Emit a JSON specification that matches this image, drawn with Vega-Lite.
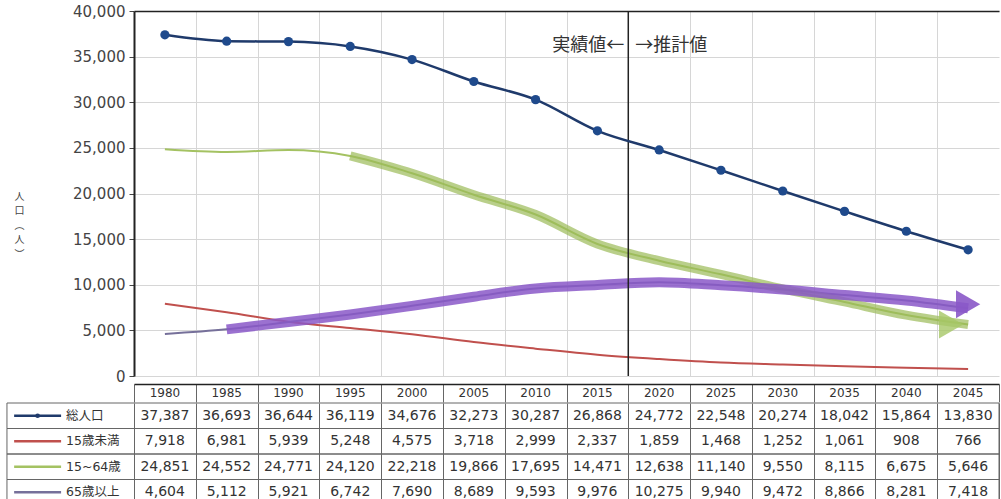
{
  "$schema": "https://vega.github.io/schema/vega-lite/v6.json",
  "padding": {"left": 6, "top": 4, "right": 2, "bottom": 0},
  "background": "white",
  "spacing": 0,
  "config": {
    "view": {"stroke": null},
    "font": "DejaVu Sans, Noto Sans CJK JP"
  },
  "datasets": {
    "pop": [
      {"year": 1980, "series": "総人口", "value": 37387},
      {"year": 1985, "series": "総人口", "value": 36693},
      {"year": 1990, "series": "総人口", "value": 36644},
      {"year": 1995, "series": "総人口", "value": 36119},
      {"year": 2000, "series": "総人口", "value": 34676},
      {"year": 2005, "series": "総人口", "value": 32273},
      {"year": 2010, "series": "総人口", "value": 30287},
      {"year": 2015, "series": "総人口", "value": 26868},
      {"year": 2020, "series": "総人口", "value": 24772},
      {"year": 2025, "series": "総人口", "value": 22548},
      {"year": 2030, "series": "総人口", "value": 20274},
      {"year": 2035, "series": "総人口", "value": 18042},
      {"year": 2040, "series": "総人口", "value": 15864},
      {"year": 2045, "series": "総人口", "value": 13830},
      {"year": 1980, "series": "15歳未満", "value": 7918},
      {"year": 1985, "series": "15歳未満", "value": 6981},
      {"year": 1990, "series": "15歳未満", "value": 5939},
      {"year": 1995, "series": "15歳未満", "value": 5248},
      {"year": 2000, "series": "15歳未満", "value": 4575},
      {"year": 2005, "series": "15歳未満", "value": 3718},
      {"year": 2010, "series": "15歳未満", "value": 2999},
      {"year": 2015, "series": "15歳未満", "value": 2337},
      {"year": 2020, "series": "15歳未満", "value": 1859},
      {"year": 2025, "series": "15歳未満", "value": 1468},
      {"year": 2030, "series": "15歳未満", "value": 1252},
      {"year": 2035, "series": "15歳未満", "value": 1061},
      {"year": 2040, "series": "15歳未満", "value": 908},
      {"year": 2045, "series": "15歳未満", "value": 766},
      {"year": 1980, "series": "15~64歳", "value": 24851},
      {"year": 1985, "series": "15~64歳", "value": 24552},
      {"year": 1990, "series": "15~64歳", "value": 24771},
      {"year": 1995, "series": "15~64歳", "value": 24120},
      {"year": 2000, "series": "15~64歳", "value": 22218},
      {"year": 2005, "series": "15~64歳", "value": 19866},
      {"year": 2010, "series": "15~64歳", "value": 17695},
      {"year": 2015, "series": "15~64歳", "value": 14471},
      {"year": 2020, "series": "15~64歳", "value": 12638},
      {"year": 2025, "series": "15~64歳", "value": 11140},
      {"year": 2030, "series": "15~64歳", "value": 9550},
      {"year": 2035, "series": "15~64歳", "value": 8115},
      {"year": 2040, "series": "15~64歳", "value": 6675},
      {"year": 2045, "series": "15~64歳", "value": 5646},
      {"year": 1980, "series": "65歳以上", "value": 4604},
      {"year": 1985, "series": "65歳以上", "value": 5112},
      {"year": 1990, "series": "65歳以上", "value": 5921},
      {"year": 1995, "series": "65歳以上", "value": 6742},
      {"year": 2000, "series": "65歳以上", "value": 7690},
      {"year": 2005, "series": "65歳以上", "value": 8689},
      {"year": 2010, "series": "65歳以上", "value": 9593},
      {"year": 2015, "series": "65歳以上", "value": 9976},
      {"year": 2020, "series": "65歳以上", "value": 10275},
      {"year": 2025, "series": "65歳以上", "value": 9940},
      {"year": 2030, "series": "65歳以上", "value": 9472},
      {"year": 2035, "series": "65歳以上", "value": 8866},
      {"year": 2040, "series": "65歳以上", "value": 8281},
      {"year": 2045, "series": "65歳以上", "value": 7418}
    ]
  },
  "vconcat": [
    {
      "width": 865,
      "height": 365,
      "layer": [
        {
          "data": {"name": "pop"},
          "transform": [{"filter": "datum.series !== '総人口'"}],
          "mark": {"type": "line", "interpolate": "monotone", "strokeWidth": 2},
          "encoding": {
            "x": {
              "field": "year", "type": "quantitative",
              "scale": {"domain": [1977.5, 2047.5], "nice": false, "zero": false},
              "axis": {
                "orient": "top", "values": [1982.5, 1987.5, 1992.5, 1997.5, 2002.5, 2007.5, 2012.5, 2017.5, 2022.5, 2027.5, 2032.5, 2037.5, 2042.5],
                "grid": true, "gridColor": "#d6d6d6", "labels": false, "ticks": false,
                "domain": true, "domainColor": "#222", "domainWidth": 1.5, "title": null
              }
            },
            "y": {
              "field": "value", "type": "quantitative",
              "scale": {"domain": [0, 40000], "nice": false, "zero": true},
              "axis": {
                "values": [0, 5000, 10000, 15000, 20000, 25000, 30000, 35000, 40000],
                "format": ",.0f", "grid": true, "gridColor": "#d6d6d6",
                "domainColor": "#222", "domainWidth": 2,
                "tickColor": "#444", "tickSize": 5, "labelPadding": 4,
                "labelFont": "DejaVu Sans", "labelFontSize": 15, "labelColor": "#444",
                "title": ["人", "口", "︵", "人", "︶"],
                "titleAngle": 0, "titleFont": "Noto Sans CJK JP", "titleFontSize": 10,
                "titleFontWeight": "normal", "titleColor": "#444", "titleLineHeight": 14.5,
                "titleAlign": "center", "titleBaseline": "top", "titleX": -115, "titleY": 180
              }
            },
            "color": {
              "field": "series", "type": "nominal",
              "scale": {"domain": ["総人口", "15歳未満", "15~64歳", "65歳以上"], "range": ["#1F3A6B", "#C0504D", "#A4C262", "#76709A"]},
              "legend": null
            }
          }
        },
        {
          "data": {"name": "pop"},
          "transform": [{"filter": "datum.series === '15~64歳' && datum.year >= 1995"}],
          "mark": {"type": "line", "interpolate": "monotone", "strokeWidth": 9, "color": "#9BBB59", "opacity": 0.7, "strokeCap": "butt"},
          "encoding": {
            "x": {"field": "year", "type": "quantitative"},
            "y": {"field": "value", "type": "quantitative"}
          }
        },
        {
          "data": {"name": "pop"},
          "transform": [{"filter": "datum.series === '15~64歳' && datum.year === 2045"}],
          "mark": {"type": "point", "shape": "triangle-right", "size": 784, "filled": true, "color": "#A6C766", "opacity": 0.8, "xOffset": -17},
          "encoding": {
            "x": {"field": "year", "type": "quantitative"},
            "y": {"field": "value", "type": "quantitative"}
          }
        },
        {
          "data": {"name": "pop"},
          "transform": [{"filter": "datum.series === '65歳以上' && datum.year >= 1985"}],
          "mark": {"type": "line", "interpolate": "monotone", "strokeWidth": 10, "color": "#8A58C8", "opacity": 0.85, "strokeCap": "butt"},
          "encoding": {
            "x": {"field": "year", "type": "quantitative"},
            "y": {"field": "value", "type": "quantitative"}
          }
        },
        {
          "data": {"name": "pop"},
          "transform": [{"filter": "datum.series === '65歳以上' && datum.year === 2045"}],
          "mark": {"type": "point", "shape": "triangle-right", "size": 784, "filled": true, "color": "#8A58C8", "opacity": 0.9, "yOffset": -4},
          "encoding": {
            "x": {"field": "year", "type": "quantitative"},
            "y": {"field": "value", "type": "quantitative"}
          }
        },
        {
          "data": {"values": [{}]},
          "mark": {"type": "rule", "color": "#222", "strokeWidth": 1.5},
          "encoding": {"x": {"datum": 2017.5, "type": "quantitative"}}
        },
        {
          "data": {"name": "pop"},
          "transform": [{"filter": "datum.series === '総人口'"}],
          "mark": {"type": "line", "interpolate": "monotone", "strokeWidth": 2.5, "color": "#1F3A6B"},
          "encoding": {
            "x": {"field": "year", "type": "quantitative"},
            "y": {"field": "value", "type": "quantitative"}
          }
        },
        {
          "data": {"name": "pop"},
          "transform": [{"filter": "datum.series === '総人口'"}],
          "mark": {"type": "point", "filled": true, "size": 85, "color": "#1F4A8C", "opacity": 1},
          "encoding": {
            "x": {"field": "year", "type": "quantitative"},
            "y": {"field": "value", "type": "quantitative"}
          }
        },
        {
          "data": {"values": [{"label": "実績値←"}]},
          "mark": {"type": "text", "align": "right", "baseline": "middle", "dx": -4, "font": "Noto Sans CJK JP", "fontSize": 18, "color": "#333"},
          "encoding": {
            "x": {"datum": 2017.5, "type": "quantitative"},
            "y": {"datum": 36150, "type": "quantitative"},
            "text": {"field": "label"}
          }
        },
        {
          "data": {"values": [{"label": "→推計値"}]},
          "mark": {"type": "text", "align": "left", "baseline": "middle", "dx": 7, "font": "Noto Sans CJK JP", "fontSize": 18, "color": "#333"},
          "encoding": {
            "x": {"datum": 2017.5, "type": "quantitative"},
            "y": {"datum": 36150, "type": "quantitative"},
            "text": {"field": "label"}
          }
        }
      ]
    },
    {
      "width": 865,
      "height": 18,
      "data": {"name": "pop"},
      "transform": [{"filter": "datum.series === '総人口'"}],
      "mark": {"type": "text", "font": "DejaVu Sans", "fontSize": 12, "color": "#333", "baseline": "middle"},
      "encoding": {
        "x": {
          "field": "year", "type": "quantitative",
          "scale": {"domain": [1977.5, 2047.5], "nice": false, "zero": false},
          "axis": {
            "orient": "top", "values": [1977.5, 1982.5, 1987.5, 1992.5, 1997.5, 2002.5, 2007.5, 2012.5, 2017.5, 2022.5, 2027.5, 2032.5, 2037.5, 2042.5, 2047.5],
            "grid": true, "gridColor": "#666", "labels": false, "ticks": false,
            "domain": true, "domainColor": "#222", "domainWidth": 1.5, "title": null
          }
        },
        "text": {"field": "year", "type": "nominal"}
      }
    },
    {
      "width": 865,
      "height": 102,
      "data": {"name": "pop"},
      "encoding": {
        "y": {
          "field": "series", "type": "nominal",
          "scale": {"domain": ["総人口", "15歳未満", "15~64歳", "65歳以上"], "paddingInner": 0, "paddingOuter": 0},
          "axis": null
        }
      },
      "layer": [
        {
          "mark": {"type": "text", "font": "DejaVu Sans", "fontSize": 14, "color": "#333", "baseline": "middle"},
          "encoding": {
            "x": {
              "field": "year", "type": "quantitative",
              "scale": {"domain": [1977.5, 2047.5], "nice": false, "zero": false},
              "axis": {
                "orient": "bottom", "values": [1977.5, 1982.5, 1987.5, 1992.5, 1997.5, 2002.5, 2007.5, 2012.5, 2017.5, 2022.5, 2027.5, 2032.5, 2037.5, 2042.5, 2047.5],
                "grid": true, "gridColor": "#666", "labels": false, "ticks": false,
                "domain": false, "title": null
              }
            },
            "text": {"field": "value", "type": "quantitative", "format": ","}
          }
        },
        {
          "transform": [{"filter": "datum.year === 1980"}],
          "mark": {"type": "rect", "fillOpacity": 0, "stroke": "#666", "strokeWidth": 1},
          "encoding": {
            "x": {"datum": 1967.22, "type": "quantitative"},
            "x2": {"datum": 2047.5}
          }
        },
        {
          "transform": [{"filter": "datum.year === 1980"}],
          "mark": {"type": "rule", "strokeWidth": 2.5},
          "encoding": {
            "x": {"datum": 1967.8, "type": "quantitative"},
            "x2": {"datum": 1971.6},
            "color": {
              "field": "series", "type": "nominal",
              "scale": {"domain": ["総人口", "15歳未満", "15~64歳", "65歳以上"], "range": ["#1F3A6B", "#C8646A", "#B5C46C", "#7C73A3"]},
              "legend": null
            }
          }
        },
        {
          "transform": [{"filter": "datum.year === 1980 && datum.series === '総人口'"}],
          "mark": {"type": "point", "filled": true, "size": 22, "color": "#1F3A6B", "opacity": 1},
          "encoding": {
            "x": {"datum": 1969.7, "type": "quantitative"}
          }
        },
        {
          "transform": [{"filter": "datum.year === 1980"}],
          "mark": {"type": "text", "align": "left", "baseline": "middle", "font": "DejaVu Sans, Noto Sans CJK JP", "fontSize": 12.5, "color": "#333"},
          "encoding": {
            "x": {"datum": 1972.0, "type": "quantitative"},
            "text": {"field": "series"}
          }
        }
      ]
    }
  ]
}
